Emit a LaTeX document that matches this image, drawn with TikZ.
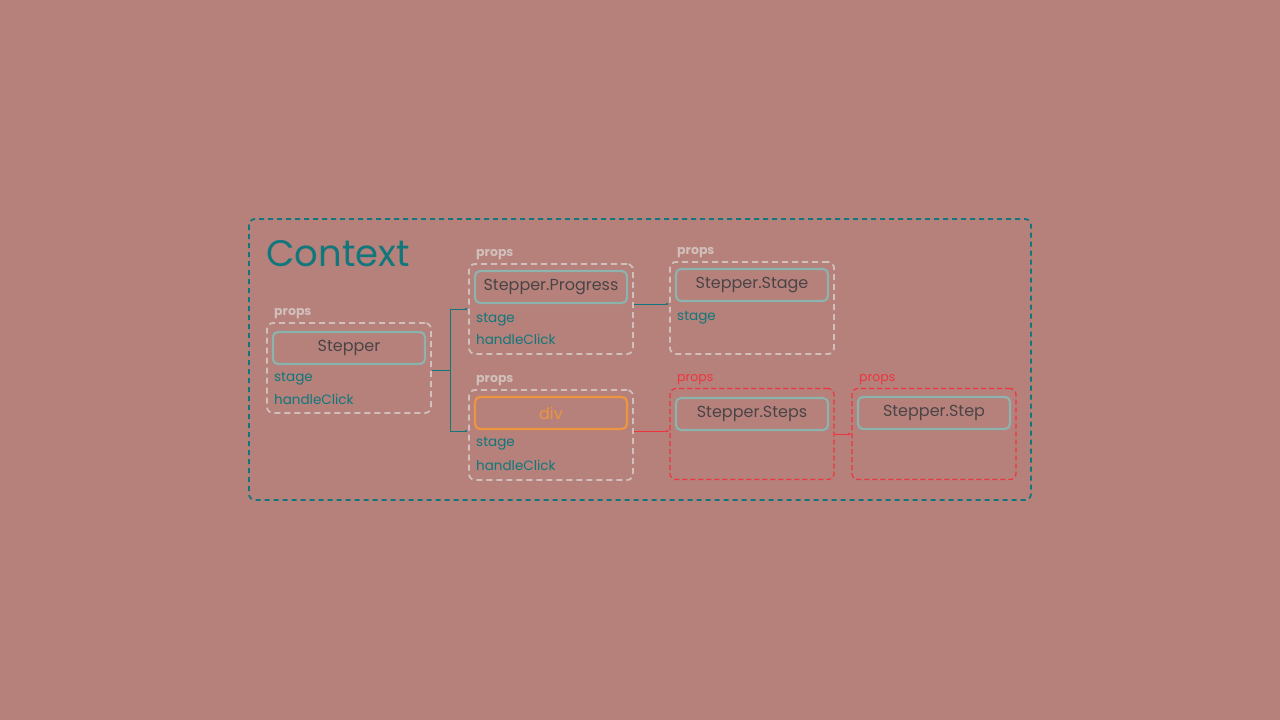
\documentclass[tikz,border=0pt]{standalone}
\usepackage{fontspec}
\setmainfont{Poppins}
\usetikzlibrary{arrows.meta}
\definecolor{bgrose}{HTML}{B5817A}
\definecolor{ctxteal}{HTML}{12777C}
\definecolor{propgray}{HTML}{D2BFBB}
\definecolor{boxteal}{HTML}{8DB3AE}
\definecolor{namegray}{HTML}{4B4447}
\definecolor{warnred}{HTML}{EE3440}
\definecolor{divorange}{HTML}{EE9541}

\tikzset{
  grp/.style={draw=propgray, line width=1.8pt, dash pattern=on 6pt off 4pt, rounded corners=6pt,
    minimum width=164pt, minimum height=90pt, inner sep=0pt},
  redgrp/.style={grp, draw=warnred, line width=1.2pt, dash pattern=on 5pt off 3pt},
  comp/.style={draw=boxteal, line width=2.2pt, rounded corners=5pt, minimum width=152pt,
    minimum height=32pt, inner sep=0pt, text=namegray, font=\fontsize{16}{18}\selectfont},
  proptag/.style={anchor=west, inner sep=0pt, yshift=-2pt, text=propgray, font=\bfseries\fontsize{12.5}{14}\selectfont},
  field/.style={anchor=west, inner sep=0pt, yshift=-2pt, text=ctxteal, font=\fontsize{13.5}{15}\selectfont},
  link/.style={draw=ctxteal, line width=0.8pt, -{Latex[length=3pt,width=2.5pt]}},
}

\begin{document}
\begin{tikzpicture}[x=1pt, y=-1pt]
        \fill[bgrose] (0, 0) rectangle (1280, 720);
        \useasboundingbox (0, 0) rectangle (1280, 720);
        \draw[ctxteal, line width=1.8pt, dash pattern=on 5pt off 4pt, rounded corners=6pt] (249, 219) rectangle (1031, 500);
        \node[anchor=west, inner sep=0pt, text=ctxteal, font=\fontsize{37}{42}\selectfont] (context) at (266, 254) {Context};

        % Stepper
        \node[grp] (stepperg) at (349, 368) {};
        \node[proptag] (stepperp) at (274, 312) {props};
        \node[comp] (stepper) at (349, 348) {Stepper};
        \node[field] (stepperf1) at (274, 377) {stage};
        \node[field] (stepperf2) at (274, 397) {handleClick};

        % Stepper.Progress
        \node[grp] (progressg) at (551, 309) {};
        \node[proptag] (progressp) at (476, 253) {props};
        \node[comp] (progress) at (551, 287) {Stepper.Progress};
        \node[field] (progressf1) at (476, 318) {stage};
        \node[field] (progressf2) at (476, 337) {handleClick};

        % div
        \node[grp] (divg) at (551, 435) {};
        \node[proptag] (divp) at (476, 379) {props};
        \node[comp, draw=divorange, text=divorange] (div) at (551, 413) {div};
        \node[field] (divf1) at (476, 442) {stage};
        \node[field] (divf2) at (476, 463) {handleClick};

        % Stepper.Stage
        \node[grp, minimum height=92pt] (stageg) at (752, 308) {};
        \node[proptag] (stagep) at (677, 251) {props};
        \node[comp] (stage) at (752, 285) {Stepper.Stage};
        \node[field] (stagef1) at (677, 316) {stage};

        % Stepper.Steps
        \node[redgrp, minimum height=91pt] (stepsg) at (752, 434) {};
        \node[proptag, text=warnred, font=\fontsize{12.5}{14}\selectfont] (stepsp) at (677, 378) {props};
        \node[comp] (steps) at (752, 414) {Stepper.Steps};

        % Stepper.Step
        \node[redgrp, minimum height=91pt] (stepg) at (934, 434) {};
        \node[proptag, text=warnred, font=\fontsize{12.5}{14}\selectfont] (stepp) at (859, 378) {props};
        \node[comp] (step) at (934, 413) {Stepper.Step};

        % connectors
        \coordinate (fork) at (450, 370);
        \draw[ctxteal, line width=0.8pt] ([yshift=-2pt]stepperg.east) -- (fork);
        \draw[link] (fork) |- (progressg.west);
        \draw[link] (fork) |- ([yshift=4pt]divg.west);
        \draw[link] ([yshift=5pt]progressg.east) -- ([yshift=5pt]progressg.east -| stageg.west);
        \draw[link, draw=warnred] ([yshift=4pt]divg.east) -- ([yshift=4pt]divg.east -| stepsg.west);
        \draw[link, draw=warnred] (stepsg.east) -- (stepg.west);
    \end{tikzpicture}
\end{document}
